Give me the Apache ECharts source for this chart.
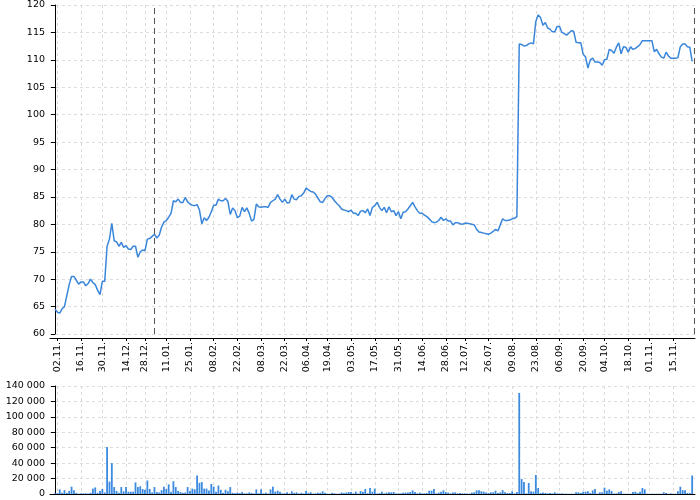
<!DOCTYPE html>
<html>
<head>
<meta charset="utf-8">
<script src="https://cdn.jsdelivr.net/npm/echarts@6.0.0/dist/echarts.min.js"></script>
<style>
  html, body { margin: 0; padding: 0; background: #fff; }
  #chart { width: 700px; height: 500px; }
</style>
</head>
<body>
<div id="chart"></div>
<script>
  // trading days 30.10.2009 - 29.11.2010 (weekends and exchange holidays skipped)
  var firstDay = '2009-10-30'
  var lastDay = '2010-11-29'
  var holidays = ['2009-11-17', '2009-12-24', '2009-12-25', '2010-01-01', '2010-04-02', '2010-04-05',
    '2010-07-05', '2010-07-06', '2010-09-28', '2010-10-28', '2010-11-17']

  var tickDates = ['2009-11-02', '2009-11-16', '2009-11-30', '2009-12-14', '2009-12-28', '2010-01-11',
    '2010-01-25', '2010-02-08', '2010-02-22', '2010-03-08', '2010-03-22', '2010-04-06', '2010-04-19',
    '2010-05-03', '2010-05-17', '2010-05-31', '2010-06-14', '2010-06-28', '2010-07-12', '2010-07-26',
    '2010-08-09', '2010-08-23', '2010-09-06', '2010-09-20', '2010-10-04', '2010-10-18', '2010-11-01',
    '2010-11-15']

  var markerDates = ['2010-01-04', '2010-11-29']

  var price = [
    64.5, 64.0, 63.8, 64.6, 65.0, 67.0, 69.0, 70.5, 70.5, 69.8,
    69.1, 69.5, 69.5, 68.8, 69.2, 70.0, 69.4, 69.0, 68.0, 67.2,
    69.6, 69.6, 76.0, 77.3, 80.2, 77.0, 76.8, 76.0, 76.7, 75.8,
    76.1, 75.5, 75.4, 76.0, 76.0, 74.0, 75.0, 75.3, 75.2, 77.3,
    77.4, 77.8, 78.2, 77.5, 78.0, 79.5, 80.4, 80.7, 81.3, 82.0,
    84.3, 84.1, 84.6, 84.0, 84.0, 84.9, 84.1, 83.7, 83.5, 83.4,
    83.6, 82.6, 80.1, 81.2, 80.7, 81.3, 82.3, 83.5, 83.5, 84.6,
    84.3, 84.3, 84.7, 84.2, 81.8, 83.0, 82.5, 81.2, 81.5, 83.1,
    82.3, 83.0, 82.0, 80.6, 80.9, 83.7, 83.2, 83.1, 83.2, 83.2,
    83.1, 84.0, 84.3, 84.6, 85.4, 84.6, 84.0, 84.6, 83.9, 84.0,
    85.4, 84.6, 84.5, 85.1, 85.2, 85.7, 86.6, 86.3, 86.0, 85.9,
    85.5, 84.8, 84.1, 84.0, 84.7, 85.2, 85.2, 84.9, 84.3, 83.8,
    83.4, 82.8, 82.6, 82.5, 82.3, 82.6, 82.0, 82.0, 81.6, 82.4,
    82.5, 82.1, 82.8, 81.6, 83.1, 83.4, 84.0, 83.1, 82.5, 83.1,
    82.1, 83.2, 82.3, 82.5, 81.6, 82.3, 81.0, 82.2, 82.3, 82.8,
    83.4, 84.0, 83.2, 82.5, 82.0, 82.0, 81.7, 81.4, 81.0, 80.5,
    80.3, 80.4, 80.7, 81.3, 80.7, 81.0, 80.6, 80.6, 79.9, 80.3,
    80.3, 80.1, 80.0, 80.2, 80.2, 80.1, 80.0, 79.9, 79.1, 78.6,
    78.5, 78.4, 78.3, 78.2, 78.4, 78.7, 79.1, 78.8, 79.9, 81.0,
    80.7, 80.7, 80.8, 81.0, 81.1, 81.4, 112.9, 112.8, 112.5, 112.6,
    112.9, 113.1, 112.9, 117.0, 118.2, 117.7, 116.3, 116.8, 115.8, 115.6,
    115.1, 115.1, 116.1, 116.1, 115.0, 114.8, 114.5, 114.9, 115.3, 115.2,
    113.2, 113.1, 113.1, 111.0, 110.5, 108.5, 110.0, 110.3, 109.6, 109.6,
    109.5, 109.0, 110.0, 110.1, 111.9, 111.7, 111.2, 112.3, 113.1, 111.1,
    112.4, 112.3, 111.4, 112.4, 111.9, 112.1, 112.4, 112.8, 113.5, 113.5,
    113.5, 113.5, 113.5, 111.5, 111.9, 111.1, 110.5, 110.3, 111.4, 110.7,
    110.3, 110.3, 110.3, 110.4, 112.4, 112.9, 112.9, 112.4, 112.3, 109.7
  ]

  var volume = [
    1000, 1200, 6000, 1500, 5000, 1500, 4000, 9500, 5000, 1500,
    500, 1000, 800, 1000, 600, 1500, 7000, 8500, 1500, 4000,
    6500, 2000, 61000, 16000, 40000, 9000, 4000, 1500, 9000, 3500,
    9000, 3000, 3000, 3000, 15000, 9000, 10000, 6500, 5500, 17500,
    6500, 2000, 9000, 2500, 2000, 5000, 9500, 6500, 12500, 3000,
    16500, 9000, 4000, 2500, 1500, 2000, 9000, 4000, 7000, 6000,
    24000, 14500, 15500, 7000, 7000, 4500, 13000, 9500, 3000, 11000,
    5500, 1500, 5500, 3500, 9000, 1500, 1000, 2000, 1200, 2500,
    1000, 800, 2000, 1500, 600, 6000, 1000, 6000, 800, 1700,
    600, 6000, 9500, 3000, 4300, 3000, 800, 1000, 2200, 700,
    3500, 1500, 2200, 600, 1500, 700, 3900, 1500, 2200, 500,
    1000, 1500, 1500, 3500, 1500, 500, 300, 1500, 1000, 300,
    500, 2000, 1200, 2000, 2600, 2600, 900, 3000, 600, 3800,
    3000, 6500, 900, 7800, 3000, 6900, 500, 1200, 3000, 800,
    1800, 2200, 2200, 2600, 800, 900, 700, 1800, 1800, 1800,
    2600, 4700, 2600, 800, 1800, 800, 900, 1200, 4300, 4300,
    6500, 800, 1800, 3000, 4700, 2600, 1800, 800, 1800, 2200,
    800, 1200, 800, 800, 700, 500, 1800, 2200, 4700, 4700,
    3500, 3000, 1800, 1300, 2200, 2200, 4300, 1300, 2200, 5000,
    2200, 1300, 1300, 3500, 800, 2600, 131000, 19400, 15500, 800,
    14300, 3500, 3000, 24600, 7800, 1300, 1800, 1300, 800, 1300,
    800, 2200, 800, 800, 800, 400, 400, 400, 400, 400,
    2200, 2200, 1300, 3000, 3000, 3500, 1300, 4700, 6500, 400,
    2200, 2200, 8200, 4300, 6000, 3900, 800, 800, 2600, 3500,
    400, 400, 400, 400, 2600, 3000, 1300, 3000, 7800, 6000,
    400, 400, 400, 400, 400, 400, 400, 2200, 1300, 400,
    800, 400, 400, 3500, 9500, 5000, 5000, 1300, 1300, 24000
  ]

  function pad (n) { return n < 10 ? '0' + n : '' + n }
  function iso (d) { return d.getUTCFullYear() + '-' + pad(d.getUTCMonth() + 1) + '-' + pad(d.getUTCDate()) }

  var dates = []
  var day = new Date(firstDay + 'T00:00:00Z')
  while (iso(day) <= lastDay) {
    var wd = day.getUTCDay()
    if (wd !== 0 && wd !== 6 && holidays.indexOf(iso(day)) < 0) dates.push(iso(day))
    day = new Date(+day + 24 * 3600 * 1000)
  }

  var tickIdx = tickDates.map(function (d) { return dates.indexOf(d) })
  var xMin = -2.1
  var xMax = 270.2

  var font = { fontFamily: 'DejaVu Sans', fontSize: 9.5, color: '#000' }
  var grid = { type: [3, 3], color: '#dcdcdc', width: 1 }

  function xAxisFor (gridIndex, withLabels) {
    return {
      type: 'value',
      gridIndex: gridIndex,
      min: xMin,
      max: xMax,
      offset: withLabels ? 4 : 0,
      axisLine: { show: true, onZero: false, lineStyle: { color: '#000', width: 1 } },
      axisTick: { show: withLabels, customValues: tickIdx, length: 3, lineStyle: { color: '#000' } },
      axisLabel: Object.assign({
        show: withLabels,
        customValues: tickIdx,
        rotate: 90,
        margin: 4,
        formatter: function (v) {
          var d = dates[Math.round(v)]
          return d ? d.slice(8, 10) + '.' + d.slice(5, 7) + '.' : ''
        }
      }, font),
      splitLine: { show: true, lineStyle: grid }
    }
  }

  var myChart = echarts.init(document.getElementById('chart'))
  var option = {
    animation: false,
    backgroundColor: '#fff',
    grid: [
      { left: 50, right: 5, top: 5, height: 329 },
      { left: 50, right: 5, top: 386, height: 108 }
    ],
    xAxis: [xAxisFor(0, true), xAxisFor(1, false)],
    yAxis: [{
      type: 'value',
      gridIndex: 0,
      min: 60,
      max: 120,
      interval: 5,
      axisLine: { show: true, lineStyle: { color: '#000' } },
      axisTick: { show: true, length: 4, lineStyle: { color: '#000' } },
      axisLabel: Object.assign({ margin: 5 }, font),
      splitLine: { show: true, lineStyle: grid }
    }, {
      type: 'value',
      gridIndex: 1,
      min: 0,
      max: 140000,
      interval: 20000,
      axisLine: { show: true, lineStyle: { color: '#000' } },
      axisTick: { show: true, length: 4, lineStyle: { color: '#000' } },
      axisLabel: Object.assign({
        margin: 5,
        formatter: function (v) { return String(v).replace(/\B(?=(\d{3})+(?!\d))/g, ' ') }
      }, font),
      splitLine: { show: true, lineStyle: grid }
    }],
    series: [{
      type: 'line',
      xAxisIndex: 0,
      yAxisIndex: 0,
      showSymbol: false,
      data: price.map(function (v, i) { return [i, v] }),
      lineStyle: { color: '#3a86da', width: 1.5 },
      itemStyle: { color: '#3a86da' },
      markLine: {
        silent: true,
        symbol: 'none',
        label: { show: false },
        lineStyle: { color: '#555', type: [6, 4], width: 1 },
        data: markerDates.map(function (d) { return { xAxis: dates.indexOf(d) } })
      }
    }, {
      type: 'bar',
      xAxisIndex: 1,
      yAxisIndex: 1,
      barWidth: 1.8,
      data: volume.map(function (v, i) { return [i, v] }),
      itemStyle: { color: '#3d8be0' }
    }]
  }
  myChart.setOption(option)
</script>
</body>
</html>
